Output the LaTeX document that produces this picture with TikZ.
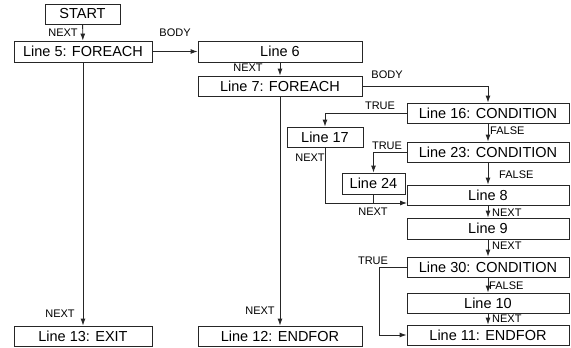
\documentclass[tikz,border=0pt]{standalone}
\usepackage{fontspec}
\setmainfont{Liberation Sans}
\usetikzlibrary{arrows.meta}
\begin{document}
\begin{tikzpicture}[x=1pt,y=-1pt,
  box/.style={draw=black!85, line width=0.9pt, inner sep=0pt, font=\fontsize{14.5}{16}\selectfont},
  lbl/.style={inner sep=0pt, font=\fontsize{11}{12}\selectfont},
  conn/.style={draw=black!85, line width=0.9pt},
  arr/.style={conn, -{Latex[length=7pt,width=5pt]}}]
\useasboundingbox (0,0) rectangle (571,348);
% boxes: center, width, height
\node[box, minimum width=75pt, minimum height=20pt] (start) at (82.5,14) {START};
\node[box, minimum width=138pt, minimum height=21pt] (l5) at (83,51.5) {Line 5: FOREACH};
\node[box, minimum width=164pt, minimum height=21pt] (l6) at (280,51.5) {Line 6};
\node[box, minimum width=164pt, minimum height=20pt] (l7) at (280,86) {Line 7: FOREACH};
\node[box, minimum width=162pt, minimum height=20pt] (l16) at (488,113) {Line 16: CONDITION};
\node[box, minimum width=76pt, minimum height=20pt] (l17) at (325,137) {Line 17};
\node[box, minimum width=162pt, minimum height=20pt] (l23) at (488,152) {Line 23: CONDITION};
\node[box, minimum width=63pt, minimum height=21pt] (l24) at (373.5,183.5) {Line 24};
\node[box, minimum width=162pt, minimum height=20pt] (l8) at (488,195) {Line 8};
\node[box, minimum width=162pt, minimum height=21pt] (l9) at (488,228.5) {Line 9};
\node[box, minimum width=162pt, minimum height=20pt] (l30) at (488,267) {Line 30: CONDITION};
\node[box, minimum width=162pt, minimum height=20pt] (l10) at (488,303) {Line 10};
\node[box, minimum width=162pt, minimum height=20pt] (l11) at (488,335) {Line 11: ENDFOR};
\node[box, minimum width=138pt, minimum height=20pt] (l13) at (83,336) {Line 13: EXIT};
\node[box, minimum width=164pt, minimum height=20pt] (l12) at (280,336) {Line 12: ENDFOR};
% connectors
\draw[arr] (start) -- (l5);
\draw[arr] (l5) -- (l6);
\draw[arr] (l6) -- (l7);
\draw[arr] (l5) -- (l13);
\draw[arr] (l7) -- (l12);
\draw[arr] (l7.east) -| (l16.north);
\draw[arr] (l16.west) -| (l17.north);
\draw[arr] (l16) -- (l23);
\draw[arr] (l23.west) -| (l24.north);
\draw[arr] (l23) -- (l8);
\coordinate (j) at (407,203);
\draw[arr] (l17.south) |- (j);
\draw[conn] (l24.south) -- (l24.south |- j);
\draw[arr] (l8) -- (l9);
\draw[arr] (l9) -- (l30);
\draw[arr] (l30) -- (l10);
\draw[arr] (l10) -- (l11);
\coordinate (t30) at (379,267);
\draw[arr] (l30.west) -- (t30) |- (l11.west);
% labels
\node[lbl] (n1) at (63,33) {NEXT};
\node[lbl] (b1) at (175,33) {BODY};
\node[lbl] (n2) at (248,68) {NEXT};
\node[lbl] (b2) at (387,75) {BODY};
\node[lbl] (t1) at (380,106) {TRUE};
\node[lbl, anchor=west] (f1) at (490,131) {FALSE};
\node[lbl] (n3) at (310,158) {NEXT};
\node[lbl] (t2) at (387,146) {TRUE};
\node[lbl, anchor=west] (f2) at (499,175) {FALSE};
\node[lbl] (n4) at (373,212) {NEXT};
\node[lbl, anchor=west] (n5) at (492,213) {NEXT};
\node[lbl, anchor=west] (n6) at (492,246) {NEXT};
\node[lbl] (t3) at (373,261) {TRUE};
\node[lbl, anchor=west] (f3) at (489,286) {FALSE};
\node[lbl, anchor=west] (n7) at (492,319) {NEXT};
\node[lbl] (n8) at (60,314) {NEXT};
\node[lbl] (n9) at (260,311) {NEXT};
\end{tikzpicture}
\end{document}
